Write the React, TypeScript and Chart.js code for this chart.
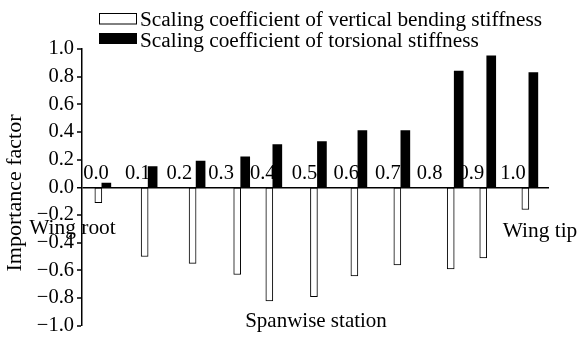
import React, { useEffect, useRef } from 'react';
import { Chart, registerables } from 'chart.js';

Chart.register(...registerables);

// ---- data ----
const stationLabels = ['0.0', '0.1', '0.2', '0.3', '0.4', '0.5', '0.6', '0.7', '0.8', '0.9', '1.0'];
const stationLabelValues = [0.0, 0.1, 0.2, 0.3, 0.4, 0.5, 0.6, 0.7, 0.8, 0.9, 1.0];
const barPositions = [0.014, 0.125, 0.24, 0.347, 0.424, 0.531, 0.628, 0.731, 0.859, 0.937, 1.038];
const verticalBending = [-0.11, -0.5, -0.55, -0.63, -0.82, -0.79, -0.64, -0.56, -0.59, -0.51, -0.16];
const torsional = [0.03, 0.15, 0.19, 0.22, 0.31, 0.33, 0.41, 0.41, 0.84, 0.95, 0.83];
const seriesNames = [
  'Scaling coefficient of vertical bending stiffness',
  'Scaling coefficient of torsional stiffness',
];
const yMin = -1.0;
const yMax = 1.0;
const yStep = 0.2;
const xMin = -0.0336;
const xMax = 1.0863;
const yTitle = 'Importance factor';
const xTitle = 'Spanwise station';
const rootText = 'Wing root';
const tipText = 'Wing tip';

const FONT = "'Liberation Serif', 'Times New Roman', Times, serif";

const annotate = {
  id: 'annotate',
  beforeDatasetsDraw(chart: any) {
    const { ctx, scales } = chart;
    const x = scales.x;
    const y = scales.y;
    const y0 = y.getPixelForValue(0);
    ctx.save();
    ctx.font = `20.5px ${FONT}`;
    ctx.fillStyle = '#000';
    ctx.textAlign = 'center';
    ctx.textBaseline = 'alphabetic';
    stationLabels.forEach((t, i) => {
      ctx.fillText(t, x.getPixelForValue(stationLabelValues[i]), y0 - 8);
    });
    ctx.restore();
  },
  afterDraw(chart: any) {
    const { ctx, scales } = chart;
    const y = scales.y;
    const y0 = y.getPixelForValue(0);
    ctx.save();
    ctx.fillStyle = '#000';
    ctx.textBaseline = 'alphabetic';

    // legend
    ctx.lineWidth = 1;
    ctx.strokeStyle = '#000';
    ctx.fillStyle = '#fff';
    ctx.fillRect(99.5, 13.5, 37, 10.5);
    ctx.strokeRect(99.5, 13.5, 37, 10.5);
    ctx.fillStyle = '#000';
    ctx.fillRect(99, 33, 38, 11);
    ctx.font = `21.3px ${FONT}`;
    ctx.textAlign = 'left';
    ctx.fillText(seriesNames[0], 140, 25.5);
    ctx.fillText(seriesNames[1], 140, 46.5);

    // annotations
    ctx.font = `21.4px ${FONT}`;
    ctx.textAlign = 'center';
    ctx.fillText(rootText, 72.5, y0 + 47);
    ctx.fillText(tipText, 540, y0 + 50);
    ctx.font = `21px ${FONT}`;
    ctx.fillText(xTitle, 316, y0 + 140);

    // y title
    ctx.font = `22px ${FONT}`;
    ctx.translate(15, 193);
    ctx.rotate(-Math.PI / 2);
    ctx.textBaseline = 'middle';
    ctx.fillText(yTitle, 0, 0);
    ctx.restore();
  },
};

export default function App() {
  const ref = useRef<HTMLCanvasElement | null>(null);

  useEffect(() => {
    document.body.style.margin = '0';
    const canvas = ref.current;
    if (!canvas) return;
    const chart = new Chart(canvas, {
      type: 'bar',
      data: {
        datasets: [
          {
            label: seriesNames[0],
            data: barPositions.map((p, i) => ({ x: p, y: verticalBending[i] })),
            backgroundColor: '#ffffff',
            borderColor: '#000000',
            borderWidth: 1,
            borderSkipped: false,
            barThickness: 7,
          },
          {
            label: seriesNames[1],
            data: barPositions.map((p, i) => ({ x: p, y: torsional[i] })),
            backgroundColor: '#000000',
            borderWidth: 0,
            barThickness: 9,
          },
        ],
      },
      options: {
        responsive: false,
        animation: false,
        events: [],
        layout: { padding: { left: 0, top: 49, right: 30, bottom: 8 } },
        plugins: {
          legend: { display: false },
          tooltip: { enabled: false },
          title: { display: false },
        },
        scales: {
          x: {
            type: 'linear',
            display: false,
            offset: false,
            min: xMin,
            max: xMax,
          },
          y: {
            type: 'linear',
            min: yMin,
            max: yMax,
            afterFit(scale: any) {
              scale.width = 82;
            },
            border: { display: true, color: '#000', width: 1.5 },
            grid: {
              drawOnChartArea: true,
              drawTicks: true,
              tickLength: 5,
              tickWidth: 1.5,
              tickColor: '#000',
              color: (c: any) => (c.tick && Math.abs(c.tick.value) < 1e-9 ? '#000' : 'rgba(0,0,0,0)'),
              lineWidth: (c: any) => (c.tick && Math.abs(c.tick.value) < 1e-9 ? 1.5 : 0),
            },
            ticks: {
              stepSize: yStep,
              padding: 3,
              color: '#000',
              font: { family: FONT, size: 20.5 },
              callback: (v: any) => Number(v).toFixed(1).replace('-', '\u2212'),
            },
          },
        },
      },
      plugins: [annotate],
    });
    return () => chart.destroy();
  }, []);

  return <canvas ref={ref} width={579} height={341} style={{ display: 'block' }} />;
}
